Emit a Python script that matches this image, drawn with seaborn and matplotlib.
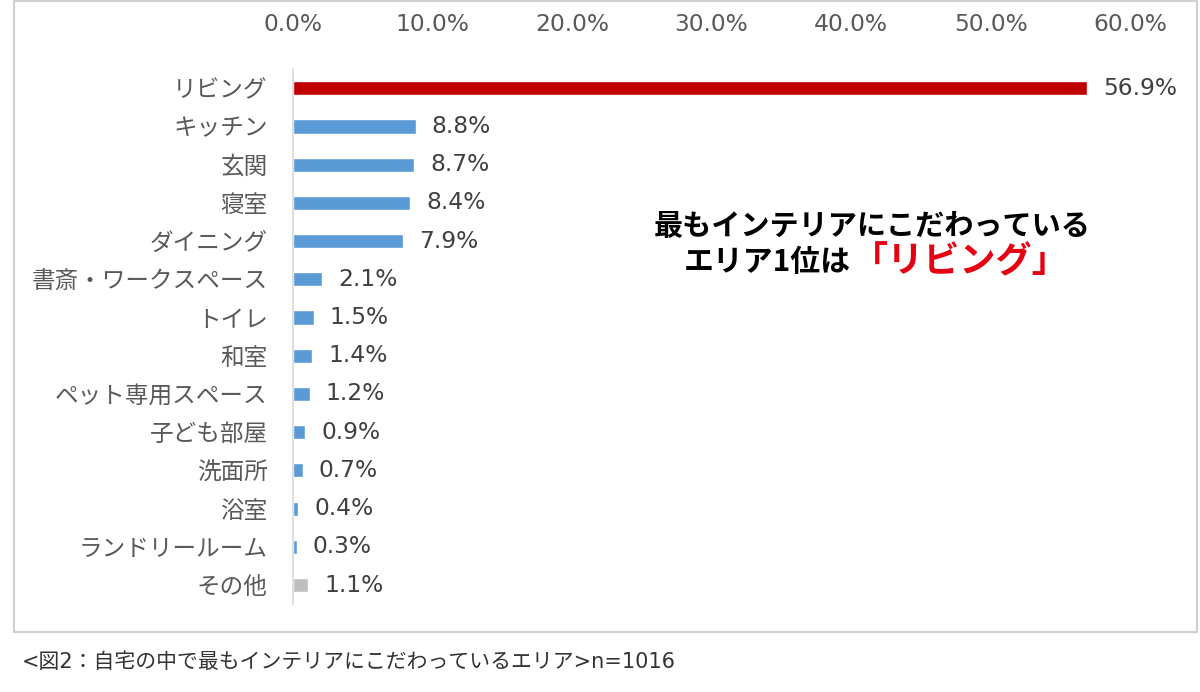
import matplotlib.pyplot as plt
import seaborn as sns
import pandas as pd
from matplotlib.patches import Rectangle

# データ
areas = ["リビング", "キッチン", "玄関", "寝室", "ダイニング", "書斎・ワークスペース", "トイレ",
         "和室", "ペット専用スペース", "子ども部屋", "洗面所", "浴室", "ランドリールーム", "その他"]
shares = [56.9, 8.8, 8.7, 8.4, 7.9, 2.1, 1.5, 1.4, 1.2, 0.9, 0.7, 0.4, 0.3, 1.1]
x_ticks = [0, 10, 20, 30, 40, 50, 60]

red = "#C00000"
blue = "#5B9BD5"
grey = "#BFBFBF"
bar_colors = [red] + [blue] * 12 + [grey]

sns.set_style("white")
plt.rcParams["font.family"] = ["DejaVu Sans", "Noto Sans CJK JP"]
jp = ["Noto Sans CJK JP", "DejaVu Sans"]

df = pd.DataFrame({"area": areas, "share": shares})

fig = plt.figure(figsize=(12, 6.92), dpi=100)
ax = fig.add_axes([0.244, 0.127, 0.698, 0.773])

sns.barplot(data=df, y="area", x="share", hue="area", palette=bar_colors,
            saturation=1, legend=False, width=0.37, orient="h", ax=ax)

ax.set_xlim(0, 60)
ax.set_xticks(x_ticks)
ax.set_xticklabels([f"{t:.1f}%" for t in x_ticks], fontsize=16.8, color="#595959")
ax.xaxis.tick_top()
ax.tick_params(axis="both", length=0)
ax.tick_params(axis="x", pad=24)
ax.tick_params(axis="y", labelsize=17, labelcolor="#595959", pad=18)
for lab in ax.get_yticklabels():
    lab.set_family(jp)
ax.set_xlabel("")
ax.set_ylabel("")
for s in ["top", "right", "bottom"]:
    ax.spines[s].set_visible(False)
ax.spines["left"].set_color("#D9D9D9")
ax.spines["left"].set_linewidth(1.2)

for i, v in enumerate(shares):
    ax.annotate(f"{v:.1f}%", xy=(v, i), xytext=(11.5, 0), textcoords="offset points",
                va="center", ha="left", fontsize=16.8, color="#404040")

# 注釈
fig.text(0.727, 0.673, "最もインテリアにこだわっている", ha="center", va="center",
         fontsize=21, fontweight="bold", color="black", family=jp)
fig.text(0.709, 0.621, "エリア1位は", ha="right", va="center",
         fontsize=21.5, fontweight="bold", color="black", family=jp)
fig.text(0.710, 0.621, "「リビング」", ha="left", va="center",
         fontsize=26, fontweight="bold", color="#E50012", family=jp)

# 枠
fig.patches.append(Rectangle((14 / 1200, 1 - 632 / 692), 1183 / 1200, 631 / 692,
                             transform=fig.transFigure, fill=False,
                             edgecolor="#D0D0D0", linewidth=1.5))

fig.text(22 / 1200, 1 - 662 / 692, "<図2：自宅の中で最もインテリアにこだわっているエリア>n=1016",
         ha="left", va="center", fontsize=15, color="#333333")

fig.savefig("out.png", dpi=100)
